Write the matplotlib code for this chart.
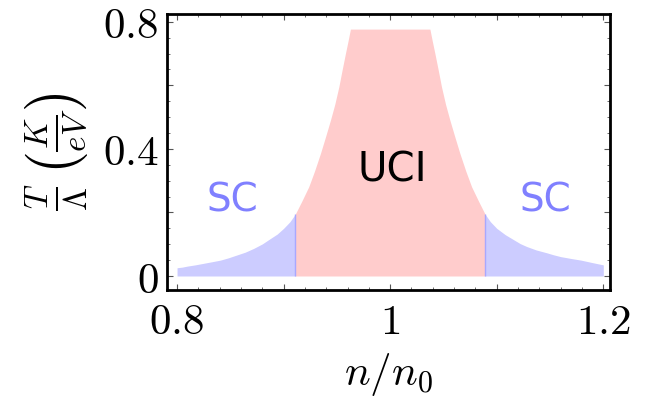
import matplotlib
matplotlib.use('Agg')
import matplotlib.pyplot as plt
from matplotlib.ticker import MultipleLocator

plt.rcParams['mathtext.fontset'] = 'cm'

# left superconducting region edge
n_sc_left = [0.800, 0.805, 0.8094, 0.817, 0.825, 0.833, 0.8407, 0.848, 0.856,
             0.864, 0.872, 0.880, 0.8876, 0.894, 0.900, 0.906, 0.911]
T_sc_left = [0.026, 0.028, 0.031, 0.035, 0.040, 0.045, 0.050, 0.057, 0.066,
             0.075, 0.087, 0.101, 0.118, 0.132, 0.150, 0.171, 0.195]

# UCI region boundary (flat top is the clipped plot range)
n_uci = [0.911, 0.917, 0.9236, 0.929, 0.9346, 0.9395, 0.9440, 0.948, 0.9518,
         0.955, 0.958, 0.9605, 0.9627,
         1.0373, 1.0395, 1.042, 1.045, 1.0482, 1.052, 1.056, 1.0605, 1.0654,
         1.071, 1.0764, 1.083, 1.089]
T_uci = [0.195, 0.235, 0.281, 0.330, 0.386, 0.440, 0.491, 0.540, 0.595,
         0.650, 0.700, 0.740, 0.777,
         0.777, 0.740, 0.700, 0.650, 0.595, 0.540, 0.491, 0.440, 0.386,
         0.330, 0.281, 0.235, 0.195]

# right superconducting region
n_sc_right = [1.089, 1.094, 1.100, 1.108, 1.116, 1.122, 1.128, 1.137, 1.147,
              1.153, 1.160, 1.170, 1.179, 1.190, 1.200]
T_sc_right = [0.195, 0.171, 0.150, 0.130, 0.114, 0.102, 0.093, 0.082, 0.073,
              0.067, 0.061, 0.055, 0.050, 0.042, 0.035]

blue_fill = '#ccccff'
pink_fill = '#ffcccc'
label_blue = '#8080ff'

fig = plt.figure(figsize=(6.55, 4.07), dpi=100)
ax = fig.add_axes([0.2545, 0.2875, 0.9313 - 0.2545, 0.9644 - 0.2875])

ax.fill_between(n_sc_left, 0, T_sc_left, color=blue_fill, lw=0)
ax.fill_between(n_uci, 0, T_uci, color=pink_fill, lw=0)
ax.fill_between(n_sc_right, 0, T_sc_right, color=blue_fill, lw=0)
# thin boundary lines between the regions
ax.vlines([n_sc_left[-1], n_sc_right[0]], 0, [T_sc_left[-1], T_sc_right[0]],
          color='#a8a8ff', lw=1)

ax.text(0.852, 0.239, 'SC', color=label_blue, fontsize=28, ha='center', va='center')
ax.text(1.146, 0.239, 'SC', color=label_blue, fontsize=28, ha='center', va='center')
ax.text(1.002, 0.333, 'UCI', color='black', fontsize=29, ha='center', va='center')

ax.set_xlim(0.7903, 1.2063)
ax.set_ylim(-0.044, 0.823)

ax.set_xticks([0.8, 0.9, 1.0, 1.1, 1.2])
ax.set_xticklabels([r'$0.8$', '', r'$1$', '', r'$1.2$'])
ax.xaxis.set_minor_locator(MultipleLocator(0.02))
ax.set_yticks([0, 0.2, 0.4, 0.6, 0.8])
ax.set_yticklabels([r'$0$', '', r'$0.4$', '', r'$0.8$'])
ax.yaxis.set_minor_locator(MultipleLocator(0.05))

ax.tick_params(which='both', direction='in', top=True, right=True,
               color='#555555', labelsize=31)
ax.tick_params(which='major', length=4, width=0.8)
ax.tick_params(which='minor', length=2, width=0.6)
ax.tick_params(axis='x', pad=8)
ax.tick_params(axis='y', pad=6)

for s in ax.spines.values():
    s.set_linewidth(2)
    s.set_color('black')

ax.set_xlabel(r'$n/n_0$', fontsize=31, labelpad=6)
ax.set_ylabel(r'$\frac{T}{\Lambda}\,\left(\frac{K}{eV}\right)$', fontsize=34, labelpad=8)

fig.savefig('out.png', dpi=100)
